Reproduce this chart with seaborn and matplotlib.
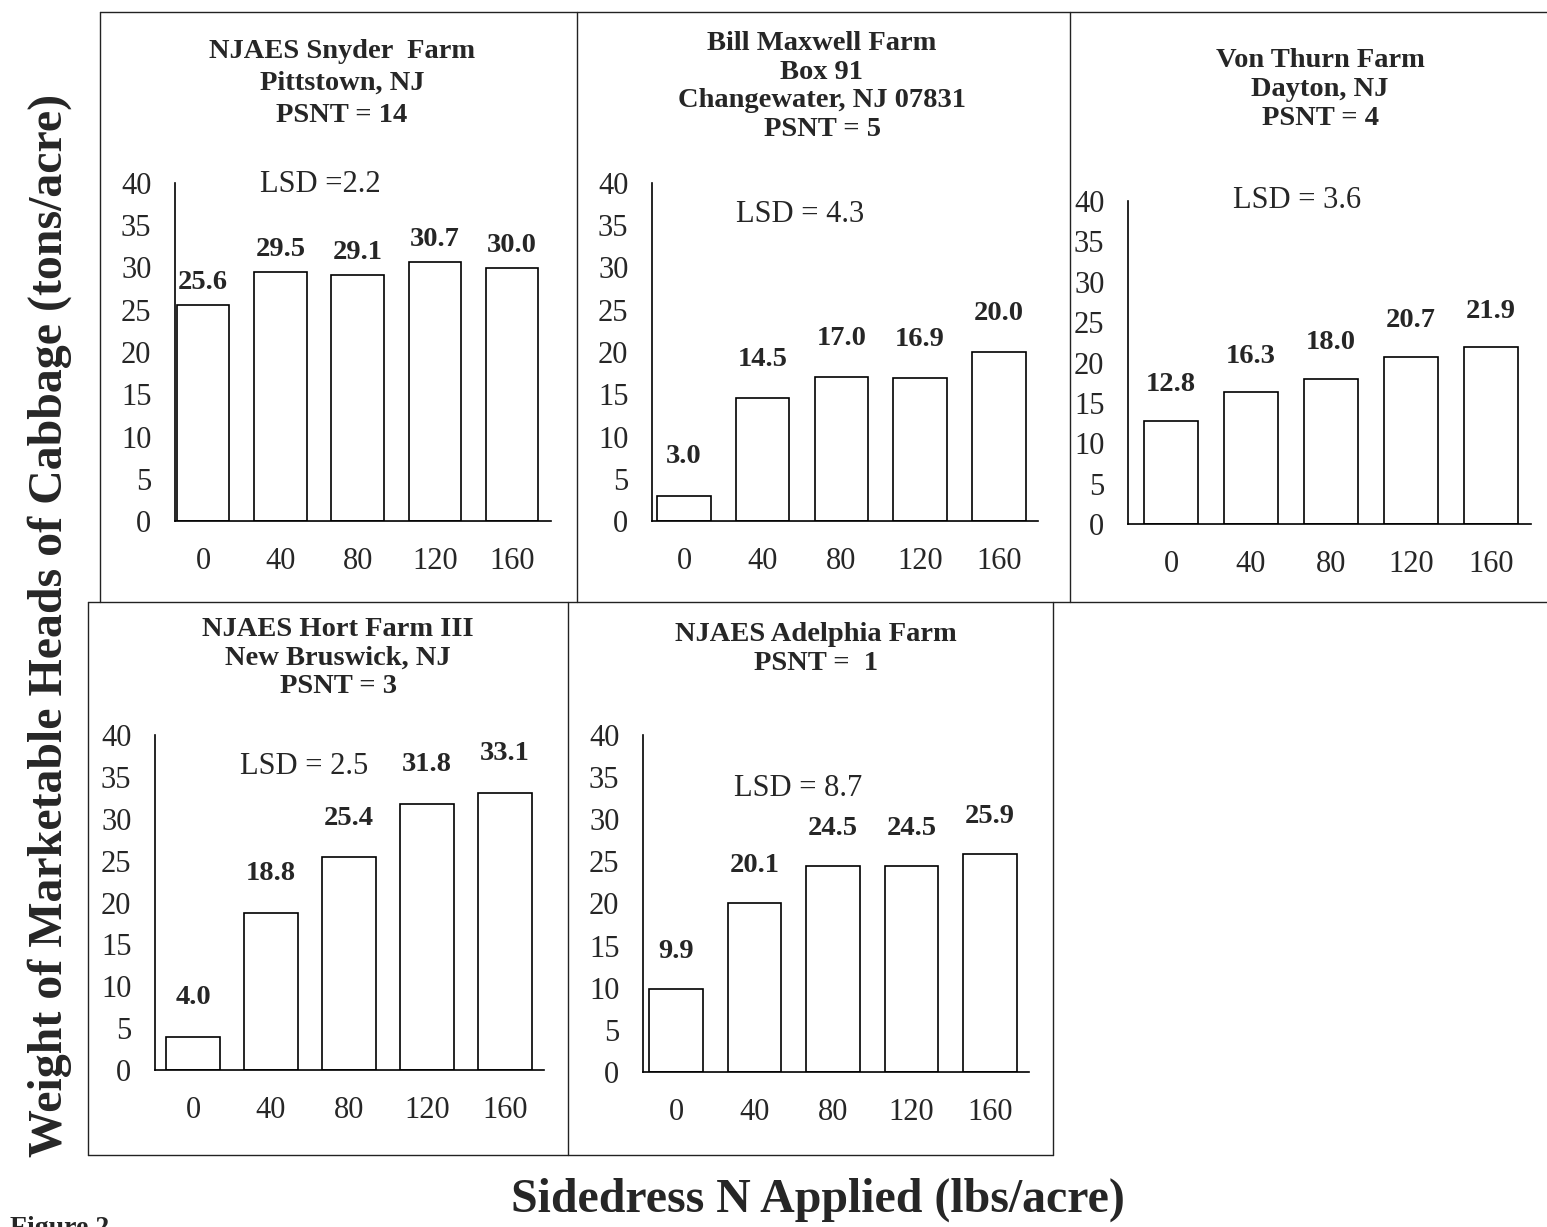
import matplotlib
matplotlib.use("Agg")
import matplotlib.pyplot as plt
import pandas as pd
import seaborn as sns
from matplotlib.lines import Line2D

W, H = 1547, 1227

# sidedress N rates (lbs/acre)
n_rates = ["0", "40", "80", "120", "160"]

# marketable cabbage yield (tons/acre) per farm
snyder = [25.6, 29.5, 29.1, 30.7, 30.0]
maxwell = [3.0, 14.5, 17.0, 16.9, 20.0]
von_thurn = [12.8, 16.3, 18.0, 20.7, 21.9]
hort_farm = [4.0, 18.8, 25.4, 31.8, 33.1]
adelphia = [9.9, 20.1, 24.5, 24.5, 25.9]

titles = [
    "NJAES Snyder  Farm\nPittstown, NJ\nPSNT = 14",
    "Bill Maxwell Farm\nBox 91\nChangewater, NJ 07831\nPSNT = 5",
    "Von Thurn Farm\nDayton, NJ\nPSNT = 4",
    "NJAES Hort Farm III\nNew Bruswick, NJ\nPSNT = 3",
    "NJAES Adelphia Farm\nPSNT =  1",
]
lsd_labels = ["LSD =2.2", "LSD = 4.3", "LSD = 3.6", "LSD = 2.5", "LSD = 8.7"]

# layout in pixels: y-axis x, first bar centre, px per category, y of 0, y of 40
panels = [
    (175, 203, 77.3, 521, 183),
    (652, 684, 78.7, 521, 183),
    (1128, 1171, 80.0, 524, 201),
    (155, 193, 78.0, 1070, 735),
    (643, 676, 78.5, 1072, 735),
]
# title: centre x, centre y of the block, font size, line spacing
title_pos = [(342, 83.5, 20.5, 1.38), (822, 86.5, 20.5, 1.18), (1320, 89.5, 20.5, 1.2),
             (338, 658, 20.5, 1.18), (816, 649, 20.5, 1.18)]
lsd_pos = [(320, 185), (800, 215), (1297, 200), (304, 767), (798, 789)]
label_gap = [7, 19, 17, 19, 18]

sns.set_theme(style="white")
plt.rcParams["font.family"] = ["Liberation Serif", "DejaVu Serif"]

fig = plt.figure(figsize=(W / 100, H / 100), dpi=100)


def fx(px):
    return px / W


def fy(py):
    return 1 - py / H


for i, values in enumerate([snyder, maxwell, von_thurn, hort_farm, adelphia]):
    axis_x, c0, unit, y0, y40 = panels[i]
    lo = -(c0 - axis_x) / unit
    hi = 4.5
    left = axis_x
    right = c0 + hi * unit
    ax = fig.add_axes([fx(left), fy(y0), fx(right - left), (y0 - y40) / H])
    df = pd.DataFrame({"rate": n_rates, "yield": values})
    sns.barplot(data=df, x="rate", y="yield", order=n_rates, width=0.68,
                color="white", edgecolor="black", linewidth=1.2, ax=ax)
    ax.set_xlim(lo, hi)
    ax.set_ylim(0, 40)
    ax.set_yticks(range(0, 41, 5))
    ax.set_xticks(range(5))
    ax.set_xticks([0.5, 1.5, 2.5, 3.5, 4.5], minor=True)
    ax.tick_params(axis="x", which="major", length=0, pad=19, labelsize=22)
    ax.tick_params(axis="x", which="minor", length=7, direction="inout", width=1, color="black")
    ax.tick_params(axis="y", length=8, direction="inout", width=1, color="black", pad=13, labelsize=22)
    ax.set_xlabel("")
    ax.set_ylabel("")
    for s in ["top", "right"]:
        ax.spines[s].set_visible(False)
    for s in ["left", "bottom"]:
        ax.spines[s].set_color("black")
        ax.spines[s].set_linewidth(1.2)
    ax.patch.set_alpha(0)
    ax.bar_label(ax.containers[0], fmt="%.1f", padding=label_gap[i],
                 fontsize=20.5, fontweight="bold")

    tx, ty, tsize, tspace = title_pos[i]
    fig.text(fx(tx), fy(ty), titles[i], ha="center", va="center",
             fontsize=tsize, fontweight="bold", linespacing=tspace)
    lx, ly = lsd_pos[i]
    fig.text(fx(lx), fy(ly), lsd_labels[i], ha="center", va="center", fontsize=22)

# panel frames
frame = [
    ((100, 12), (1547, 12)),
    ((100, 12), (100, 602)),
    ((577, 12), (577, 602)),
    ((1070, 12), (1070, 602)),
    ((88, 602), (1547, 602)),
    ((88, 602), (88, 1155)),
    ((568, 602), (568, 1155)),
    ((1053, 602), (1053, 1155)),
    ((88, 1155), (1053, 1155)),
]
for (x1, y1), (x2, y2) in frame:
    fig.add_artist(Line2D([fx(x1), fx(x2)], [fy(y1), fy(y2)], transform=fig.transFigure,
                          color="#222222", linewidth=1))

fig.text(fx(50), fy(625), "Weight of Marketable Heads of Cabbage (tons/acre)",
         rotation=90, ha="center", va="center", fontsize=34.5, fontweight="bold")
fig.text(fx(818), fy(1200), "Sidedress N Applied (lbs/acre)",
         ha="center", va="center", fontsize=34.5, fontweight="bold")
# the caption is cut off by the bottom edge in the original scan as well
fig.text(fx(10), fy(1216), "Figure 2", ha="left", va="top", fontsize=20, fontweight="bold")

fig.savefig("out.png", dpi=100, facecolor="white")
